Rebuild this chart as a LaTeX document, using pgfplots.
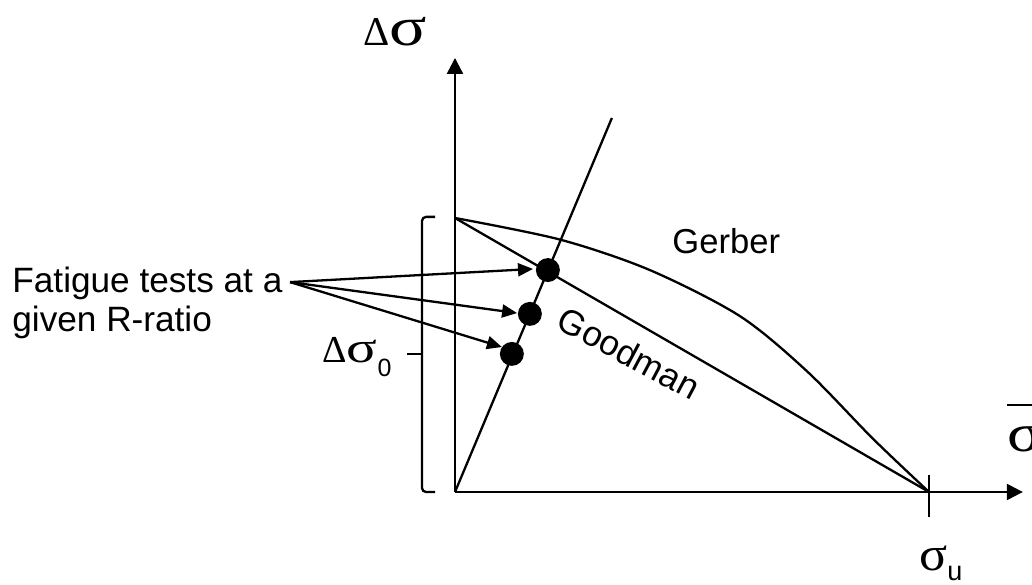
\documentclass[border=0pt]{standalone}
\usepackage{pgfplots}
\pgfplotsset{compat=1.18}
\usepackage{graphicx}
\usepackage{fontspec}
\setmainfont{Liberation Sans}
\newfontfamily\greek{Liberation Serif}
\usetikzlibrary{arrows.meta}

% stretched sigma: \gsig{x-scale}{y-scale}
\newcommand{\gsig}[2]{\scalebox{#1}[#2]{σ}}

\begin{document}
\begin{tikzpicture}
\begin{axis}[
  x=237pt, y=137pt,
  xmin=-0.9599, xmax=1.2173, ymin=-0.3358, ymax=1.7956,
  hide axis, clip=false,
  every axis plot/.append style={line width=1.15pt},
]
% coordinate axes
\addplot[black, -{Triangle[length=8pt,width=8pt]}] coordinates {(0,0) (1.198,0)};
\addplot[black, -{Triangle[length=8pt,width=8pt]}] coordinates {(0,0) (0,1.584)};
% tick at sigma_u
\addplot[black] coordinates {(1,0.062) (1,-0.091)};

% Goodman line
\addplot[black] coordinates {(0,1) (1,0)};
% Gerber curve
\addplot[black, smooth] coordinates {
  (0,1.0) (0.222,0.921) (0.411,0.810) (0.601,0.642)
  (0.743,0.440) (0.882,0.194) (1.0,0.0)};
% constant R-ratio line
\addplot[black] coordinates {(0,0) (0.331,1.365)};

% fatigue test results
\addplot[black, only marks, mark=*, mark size=5.4pt, mark options={fill=black}]
  coordinates {(0.196,0.810) (0.158,0.650) (0.120,0.504)};

% bracket marking the stress range at zero mean stress
\addplot[black, rounded corners=2pt] coordinates {(-0.042,1.004) (-0.0696,1.004) (-0.0696,0) (-0.042,0)};
\addplot[black] coordinates {(-0.101,0.504) (-0.0696,0.504)};

% annotation arrows
\addplot[black, -{Triangle[length=7.5pt,width=6.5pt]}] coordinates {(-0.348,0.766) (0.1646,0.814)};
\addplot[black, -{Triangle[length=7.5pt,width=6.5pt]}] coordinates {(-0.348,0.766) (0.131,0.653)};
\addplot[black, -{Triangle[length=7.5pt,width=6.5pt]}] coordinates {(-0.348,0.766) (0.099,0.529)};

% text
\node[anchor=base west, font=\fontsize{17.6}{20}\selectfont, inner sep=0pt]
  at (axis cs:-0.9346,0.7263) {Fatigue tests at a};
\node[anchor=base west, font=\fontsize{17.6}{20}\selectfont, inner sep=0pt]
  at (axis cs:-0.9346,0.5840) {given R-ratio};
\node[anchor=base west, font=\fontsize{17.3}{20}\selectfont, inner sep=0pt]
  at (axis cs:0.4578,0.8686) {Gerber};
\node[rotate=-28, font=\fontsize{17.6}{20}\selectfont, inner sep=0pt]
  at (axis cs:0.3671,0.5073) {Goodman};

\node[anchor=base west, inner sep=0pt]
  at (axis cs:-0.1941,1.6277) {\greek\fontsize{20.4}{24}\selectfont Δ\gsig{1.7}{1.35}};
\node[anchor=base west, inner sep=0pt]
  at (axis cs:-0.2806,0.4708) {\greek\fontsize{19}{22}\selectfont Δ\gsig{1.5}{1.15}%
    \raisebox{-7pt}{\rmfamily\fontsize{12.5}{14}\selectfont 0}};
\node[anchor=base west, inner sep=0pt]
  at (axis cs:0.9789,-0.2847) {\greek\fontsize{20}{24}\selectfont \gsig{1.3}{1.2}%
    \raisebox{-5pt}{\rmfamily\fontsize{13.5}{16}\selectfont u}};
\node[anchor=base west, inner sep=0pt]
  at (axis cs:1.1646,0.1460) {\greek\fontsize{20}{24}\selectfont \gsig{1.6}{1.35}};
\draw[line width=1.15pt] (axis cs:1.1646,0.3175) -- (axis cs:1.26,0.3175);

\coordinate (bl) at (axis cs:-0.9599,-0.3358);
\coordinate (tr) at (axis cs:1.2173,1.7956);
\end{axis}
\pgfresetboundingbox
\useasboundingbox (bl) rectangle (tr);
\end{tikzpicture}
\end{document}
